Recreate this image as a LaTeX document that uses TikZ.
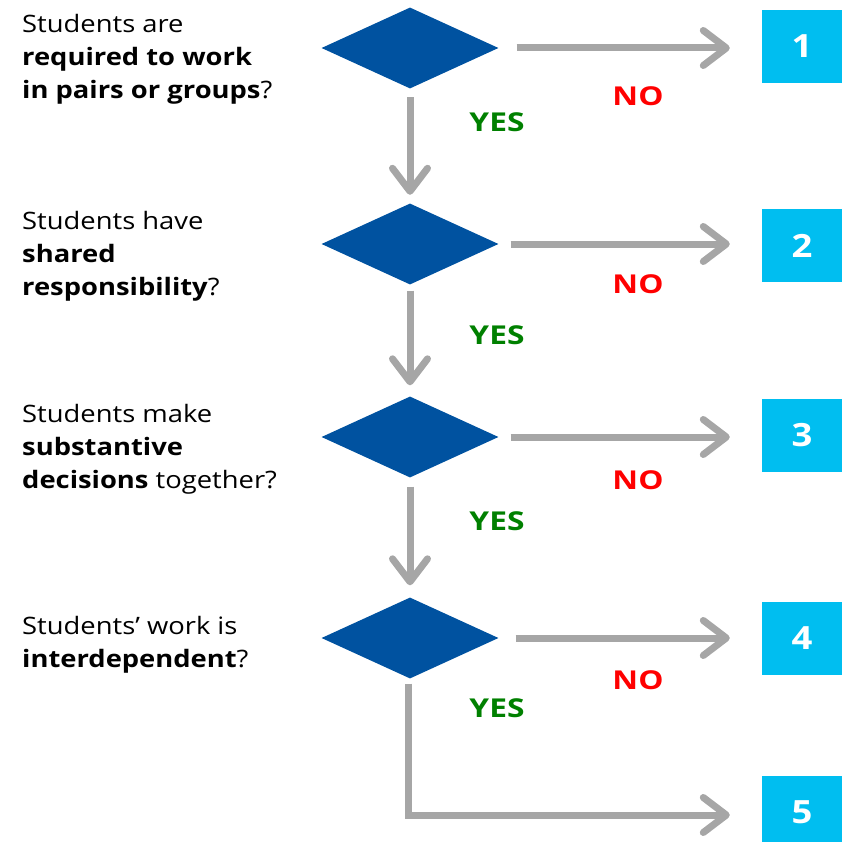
\documentclass[tikz,border=0pt]{standalone}
\usepackage{fontspec}
\setmainfont{Open Sans}[FakeStretch=1.14]
\newfontfamily\labelfont{Open Sans}[FakeStretch=1.22]
\usetikzlibrary{positioning}
\usetikzlibrary{shapes.geometric,arrows.meta}

\definecolor{decblue}{RGB}{0,82,160}
\definecolor{boxcyan}{RGB}{0,190,240}
\definecolor{flowgray}{RGB}{166,166,166}
\definecolor{yesgreen}{RGB}{0,128,0}
\definecolor{nored}{RGB}{255,0,0}

\tikzset{
	question/.style={anchor=north west, align=left, inner sep=0pt, font=\fontsize{24}{33}\selectfont},
	decision/.style={diamond, fill=decblue, minimum width=177pt, minimum height=81pt, inner sep=0pt},
	outcome/.style={fill=boxcyan, minimum width=80pt, minimum height=73pt, inner sep=0pt, text=white, font=\fontsize{32}{36}\selectfont\bfseries},
	flow/.style={draw=flowgray, line width=7pt, -{Straight Barb[round,length=23pt,width=35pt]}},
	yeslabel/.style={text=yesgreen, font=\labelfont\fontsize{26}{30}\selectfont\bfseries},
	nolabel/.style={text=nored, font=\labelfont\fontsize{26}{30}\selectfont\bfseries}
}

\begin{document}
\begin{tikzpicture}[x=1pt,y=-1pt]
		\useasboundingbox (0,0) rectangle (841,842);
		
		% questions
		\node[question] (q1) at (22,14) {Students are\\ \textbf{required to work}\\ \textbf{in pairs or groups}?};
		\node[question] (q2) at (22,211) {Students have\\ \textbf{shared}\\ \textbf{responsibility}?};
		\node[question] (q3) at (22,404) {Students make\\ \textbf{substantive}\\ \textbf{decisions} together?};
		\node[question] (q4) at (22,616) {Students' work is\\ \textbf{interdependent}?};
		
		% decisions
		\node[decision] (d1) at (410,48) {};
		\node[decision] (d2) at (410,244) {};
		\node[decision] (d3) at (410,437) {};
		\node[decision] (d4) at (410,638) {};
		
		% outcomes
		\node[outcome] (b1) at (802,46.5) {1};
		\node[outcome] (b2) at (802,245.5) {2};
		\node[outcome] (b3) at (802,435.5) {3};
		\node[outcome] (b4) at (802,638) {4};
		\node[outcome] (b5) at (802,812) {5};
		
		% yes arrows
		\draw[flow, shorten <=8.5pt, shorten >=8.5pt] (d1.south) -- (d2.north);
		\draw[flow, shorten <=6pt, shorten >=11pt] (d2.south) -- (d3.north);
		\draw[flow, shorten <=9pt, shorten >=12pt] (d3.south) -- (d4.north);
		\draw[flow, shorten <=5pt, shorten >=32pt] ([xshift=-2pt]d4.south) |- ([yshift=-3pt]b5.west);
		
		% no arrows
		\draw[flow, shorten <=18pt, shorten >=32pt] (d1.east) -- (d1.east -| b1.west);
		\draw[flow, shorten <=12pt, shorten >=32pt] (d2.east) -- (d2.east -| b2.west);
		\draw[flow, shorten <=12pt, shorten >=32pt] (d3.east) -- (d3.east -| b3.west);
		\draw[flow, shorten <=17pt, shorten >=32pt] (d4.east) -- (d4.east -| b4.west);
		
		% labels
		\node[yeslabel] (y1) at (497,122) {YES};
		\node[yeslabel] (y2) at (497,335) {YES};
		\node[yeslabel] (y3) at (497,521) {YES};
		\node[yeslabel] (y4) at (497,708) {YES};
		\node[nolabel] (n1) at (638,96) {NO};
		\node[nolabel] (n2) at (638,284) {NO};
		\node[nolabel] (n3) at (638,480) {NO};
		\node[nolabel] (n4) at (638,680) {NO};
	\end{tikzpicture}
\end{document}
